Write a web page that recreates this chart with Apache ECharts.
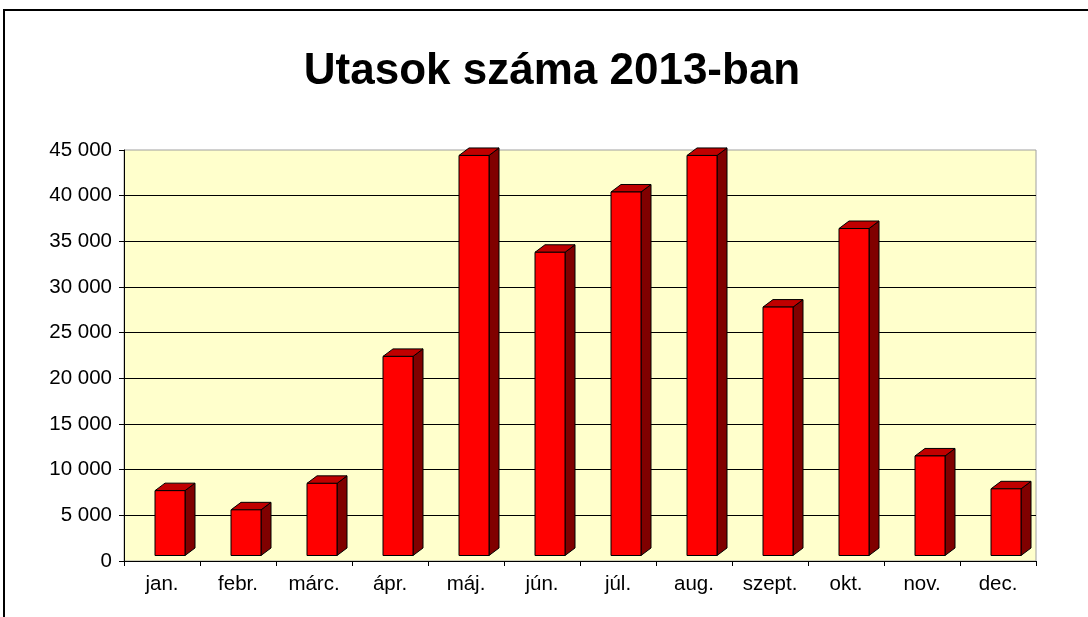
<!DOCTYPE html>
<html>
<head>
<meta charset="utf-8">
<script src="https://cdn.jsdelivr.net/npm/echarts@6/dist/echarts.min.js"></script>
<style>html,body{margin:0;padding:0;background:#fff;}#c{width:1088px;height:617px;}</style>
</head>
<body>
<div id="c"></div>
<script>
const titleText = 'Utasok száma 2013-ban';
const months = ['jan.', 'febr.', 'márc.', 'ápr.', 'máj.', 'jún.', 'júl.', 'aug.', 'szept.', 'okt.', 'nov.', 'dec.'];
const passengers = [7100, 5000, 7900, 21800, 43800, 33200, 39800, 43800, 27200, 35800, 10900, 7300];
const yMin = 0, yMax = 45000, yStep = 5000;

const FONT = '"Liberation Sans", Arial, sans-serif';

function fmt(v) {
  return String(v).replace(/\B(?=(\d{3})+(?!\d))/g, ' ');
}

function renderBar(params, api) {
  const idx = api.value(0), v = api.value(1);
  const base = api.coord([idx, 0]);
  const top = api.coord([idx, v]);
  const cx = base[0];
  const w = 30, dx = 10, dy = 7.5, lift = 5.5;
  const x0 = cx - 7;
  const yb = base[1] - lift, yt = top[1] - lift;
  const stroke = '#000';
  return {
    type: 'group',
    children: [
      { type: 'polygon', shape: { points: [[x0 + w, yt], [x0 + w + dx, yt - dy], [x0 + w + dx, yb - dy], [x0 + w, yb]] },
        style: { fill: '#800000', stroke: stroke, lineWidth: 1 } },
      { type: 'polygon', shape: { points: [[x0, yt], [x0 + dx, yt - dy], [x0 + w + dx, yt - dy], [x0 + w, yt]] },
        style: { fill: '#C00000', stroke: stroke, lineWidth: 1 } },
      { type: 'rect', shape: { x: x0, y: yt, width: w, height: yb - yt },
        style: { fill: '#FF0000', stroke: stroke, lineWidth: 1 } }
    ]
  };
}

const chart = echarts.init(document.getElementById('c'), null, { renderer: 'canvas' });
chart.setOption({
  backgroundColor: '#ffffff',
  animation: false,
  title: {
    text: titleText,
    left: 547,
    textAlign: 'center',
    top: 45,
    textStyle: { fontFamily: FONT, fontSize: 44, fontWeight: 'bold', color: '#000' }
  },
  graphic: [
    { type: 'polyline', shape: { points: [[4, 617], [4, 10], [1088, 10]] },
      style: { stroke: '#000', lineWidth: 2, fill: null }, silent: true }
  ],
  grid: {
    left: 124, right: 52, top: 150, bottom: 56,
    show: true, backgroundColor: '#FFFFCC', borderColor: '#a0a0a0', borderWidth: 1
  },
  xAxis: {
    type: 'category',
    data: months,
    boundaryGap: true,
    axisLine: { show: true, lineStyle: { color: '#000', width: 1 } },
    axisTick: { show: true, length: 5, alignWithLabel: false, lineStyle: { color: '#000' } },
    axisLabel: { margin: 13, fontFamily: FONT, fontSize: 20.5, color: '#000' },
    splitLine: { show: false }
  },
  yAxis: {
    type: 'value',
    min: yMin, max: yMax, interval: yStep,
    axisLine: { show: true, lineStyle: { color: '#000', width: 1 } },
    axisTick: { show: true, length: 5, lineStyle: { color: '#000' } },
    axisLabel: { margin: 12, fontFamily: FONT, fontSize: 20.5, color: '#000', formatter: fmt },
    splitLine: { show: true, showMaxLine: false, lineStyle: { color: '#000', width: 1 } }
  },
  series: [{
    type: 'custom',
    renderItem: renderBar,
    data: passengers.map((v, i) => [i, v]),
    encode: { x: 0, y: 1 },
    clip: false
  }]
});
</script>
</body>
</html>
